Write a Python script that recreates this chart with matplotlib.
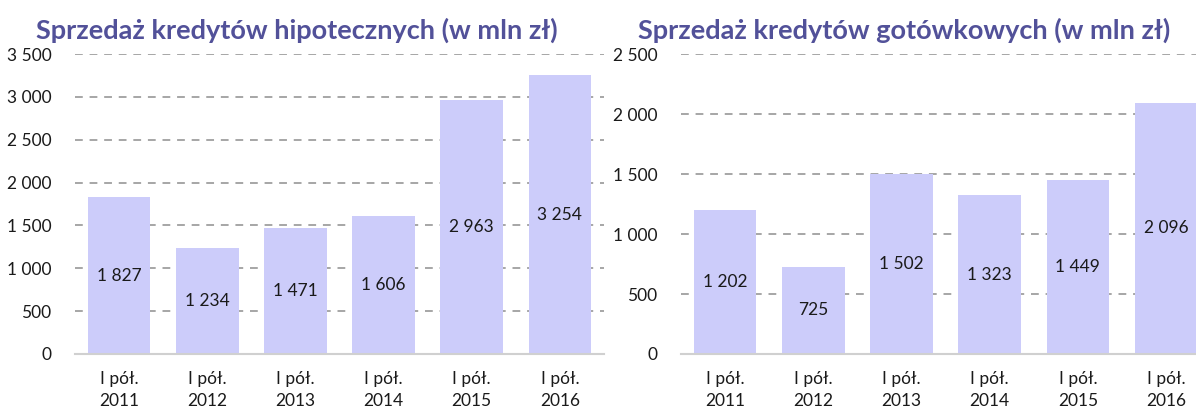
import matplotlib
matplotlib.use("Agg")
import matplotlib.pyplot as plt
from matplotlib.ticker import FuncFormatter

plt.rcParams['font.family'] = ['Lato', 'DejaVu Sans']

# data
categories = ["I pół.\n2011", "I pół.\n2012", "I pół.\n2013", "I pół.\n2014", "I pół.\n2015", "I pół.\n2016"]
mortgage = [1827, 1234, 1471, 1606, 2963, 3254]
cash = [1202, 725, 1502, 1323, 1449, 2096]

title_left = "Sprzedaż kredytów hipotecznych (w mln zł)"
title_right = "Sprzedaż kredytów gotówkowych (w mln zł)"

bar_color = "#ccccfa"
title_color = "#525199"
text_color = "#1a1a1a"


def fmt(v):
    return "{:,}".format(int(v)).replace(",", " ")


def draw(ax, values, ymax, xmax):
    x = range(len(values))
    ax.bar(x, values, width=0.71, color=bar_color, zorder=2)
    for i, v in zip(x, values):
        ax.text(i, v / 2, fmt(v), ha="center", va="center", fontsize=12.5, color=text_color, zorder=3)
    ax.set_ylim(0, ymax)
    ax.set_xlim(-0.5, xmax)
    ax.set_yticks(range(0, ymax + 1, 500))
    ax.yaxis.set_major_formatter(FuncFormatter(lambda v, p: fmt(v)))
    ax.set_xticks(list(x))
    ax.set_xticklabels(categories, fontsize=12.5, color=text_color, linespacing=1.45)
    ax.tick_params(axis="y", length=0, pad=17, labelsize=12.5, labelcolor=text_color)
    ax.tick_params(axis="x", length=0, pad=12)
    for s in ["top", "right", "left"]:
        ax.spines[s].set_visible(False)
    ax.spines["bottom"].set_color("#d0d0d0")
    ax.spines["bottom"].set_linewidth(1.5)
    ax.yaxis.grid(True, color="#a6a6a6", linestyle=(0, (4, 3.5)), linewidth=1.4, zorder=0)
    ax.set_axisbelow(True)


fig = plt.figure(figsize=(11.96, 4.12), dpi=100)
ax1 = fig.add_axes([0.0627, 0.1408, 0.4423, 0.728])
ax2 = fig.add_axes([0.5694, 0.1408, 0.4306, 0.728])

draw(ax1, mortgage, 3500, 5.5)
draw(ax2, cash, 2500, 5.34)

fig.text(36 / 1196, 1 - 30 / 412, title_left, fontsize=19.5, fontweight="bold", color=title_color, va="center", ha="left")
fig.text(638 / 1196, 1 - 30 / 412, title_right, fontsize=19.5, fontweight="bold", color=title_color, va="center", ha="left")

fig.savefig("out.png", dpi=100)
